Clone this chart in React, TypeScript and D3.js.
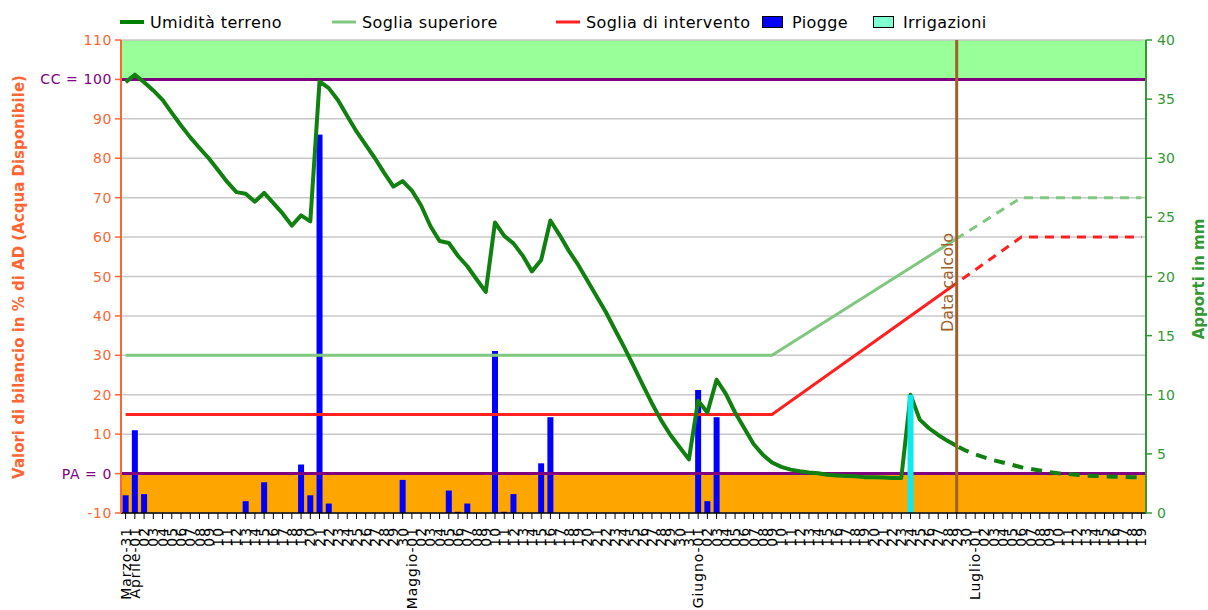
import React from 'react';
import * as d3 from 'd3';

// calendar: Marzo-31 .. Luglio-19
const startDay = new Date(2021, 2, 31);
const endDay = new Date(2021, 6, 20);
const monthNames = ['Gennaio', 'Febbraio', 'Marzo', 'Aprile', 'Maggio', 'Giugno', 'Luglio', 'Agosto'];
const calcDay = 90; // Data calcolo

// Umidità terreno (% AD), one value per day
const moisture = [
  99.3, 101.2, 99.3, 97.2, 94.8, 91.5, 88.3, 85.3, 82.6, 80, 77, 74, 71.4, 71, 69, 71.2, 68.6, 66, 62.9, 65.5,
  64, 99.5, 97.8, 94.7, 90.7, 86.8, 83.4, 80, 76.3, 72.8, 74.2, 71.8, 68, 62.8, 59, 58.5, 55.2, 52.6, 49.3, 46.1,
  63.7, 60.3, 58.4, 55.3, 51.3, 54.2, 64.2, 60.5, 56.5, 53, 49, 45, 41, 36.5, 32, 27.3, 22.5, 17.8, 13.5, 9.8,
  6.7, 3.6, 18.5, 15.5, 23.8, 20.2, 15.5, 11.5, 7.5, 4.8, 2.8, 1.7, 1.0, 0.6, 0.3, 0.1, -0.3, -0.5, -0.6, -0.7,
  -0.9, -0.9, -1.0, -1.1, -1.1, 20, 13.7, 11.5, 9.8, 8.3, 7.0, 5.8, 4.9, 4.1, 3.4, 2.8, 2.2, 1.6, 1.2, 0.8,
  0.4, 0.1, -0.1, -0.3, -0.5, -0.6, -0.7, -0.8, -0.85, -0.9, -0.9,
];

// thresholds (breakpoints by day index)
const thresholdDays = [0, 70, 97, 110];
const upperThreshold = [30, 30, 70, 70];
const interventionThreshold = [15, 15, 60, 60];

// Piogge (mm)
const rainDays = [0, 1, 2, 13, 15, 19, 20, 21, 22, 30, 35, 36, 37, 40, 41, 42, 45, 46, 62, 63, 64];
const rainMm = [1.5, 7.0, 1.6, 1.0, 2.6, 4.1, 1.5, 32, 0.8, 2.8, 1.9, 0.1, 0.8, 13.7, 0.1, 1.6, 4.2, 8.1, 10.4, 1.0, 8.1];

// Irrigazioni (mm)
const irrigationDays = [85];
const irrigationMm = [10];

const leftTicks = [-10, 0, 10, 20, 30, 40, 50, 60, 70, 80, 90, 100, 110];
const rightTicks = [0, 5, 10, 15, 20, 25, 30, 35, 40];

const legendItems = [
  { label: 'Umidità terreno', kind: 'line', color: '#008000', w: 4, x: 120 },
  { label: 'Soglia superiore', kind: 'line', color: '#80C880', w: 3, x: 332 },
  { label: 'Soglia di intervento', kind: 'line', color: '#FF2020', w: 3, x: 556 },
  { label: 'Piogge', kind: 'rect', color: '#0000FF', w: 0, x: 762 },
  { label: 'Irrigazioni', kind: 'rect', color: '#80FFD0', w: 0, x: 873 },
];

const FONT = 'DejaVu Sans, Verdana, sans-serif';

export default function App() {
  const left = 121, right = 1146, top = 40, bottom = 513;
  const days = d3.timeDay.range(startDay, endDay);

  const x = d3.scaleLinear().domain([-0.5, days.length - 0.5]).range([left, right]);
  const y = d3.scaleLinear().domain([-10, 110]).range([bottom, top]);
  const yr = d3.scaleLinear().domain([0, 40]).range([bottom, top]);

  const line = d3.line<number>().x((d, i) => x(i)).y(d => y(d));
  const thrLine = (vals: number[]) =>
    d3.line<number>().x((d, i) => x(thresholdDays[i])).y(d => y(d))(vals) || '';

  const dayLabel = (d: Date, i: number) => {
    const dd = d3.timeFormat('%d')(d);
    return i === 0 || d.getDate() === 1 ? `${monthNames[d.getMonth()]}-${dd}` : dd;
  };
  const leftLabel = (v: number) => (v === 100 ? 'CC = 100' : v === 0 ? 'PA = 0' : String(v));
  const xc = x(calcDay);

  const lines = (dash: string | undefined) => (
    <>
      <path d={thrLine(upperThreshold)} fill="none" stroke="#80C880" strokeWidth={3} strokeDasharray={dash} />
      <path d={thrLine(interventionThreshold)} fill="none" stroke="#FF2020" strokeWidth={3} strokeDasharray={dash} />
    </>
  );

  return (
    <svg width={1208} height={610} style={{ position: 'absolute', left: 0, top: 0, display: 'block', background: '#fff' }} fontFamily={FONT}>
      <defs>
        <clipPath id="solid"><rect x={0} y={0} width={xc} height={610} /></clipPath>
        <clipPath id="dashed"><rect x={xc} y={0} width={1208 - xc} height={610} /></clipPath>
      </defs>

      {/* legend */}
      {legendItems.map(it => (
        <g key={it.label}>
          {it.kind === 'line'
            ? <line x1={it.x} x2={it.x + 24} y1={22} y2={22} stroke={it.color} strokeWidth={it.w} />
            : <rect x={it.x + 0.5} y={16.5} width={20} height={11} fill={it.color} stroke="#000" strokeWidth={1} />}
          <text x={it.x + 30} y={28} fontSize={16} letterSpacing={0.4} fill="#000">{it.label}</text>
        </g>
      ))}

      {/* bands */}
      <rect x={left} y={y(110)} width={right - left} height={y(100) - y(110)} fill="#99FF99" />
      <rect x={left} y={y(0)} width={right - left} height={y(-10) - y(0)} fill="#FFA500" />

      {/* grid */}
      {leftTicks.map(t => (
        <line key={t} x1={left} x2={right} y1={y(t)} y2={y(t)} stroke="#C8C8C8" strokeWidth={1.5} />
      ))}

      {/* piogge */}
      {rainDays.map((d, i) => (
        <rect key={d} x={x(d) - 3} y={yr(rainMm[i])} width={6} height={bottom - yr(rainMm[i])} fill="#0000FF" />
      ))}

      {/* soglie */}
      <g clipPath="url(#solid)">{lines(undefined)}</g>
      <g clipPath="url(#dashed)">{lines('9,7')}</g>

      {/* CC / PA */}
      <line x1={left} x2={right} y1={y(100)} y2={y(100)} stroke="#800080" strokeWidth={3} />
      <line x1={left} x2={right} y1={y(0)} y2={y(0)} stroke="#800080" strokeWidth={3} />

      {/* umidità terreno */}
      <path d={line(moisture) || ''} fill="none" stroke="#108010" strokeWidth={4} strokeLinejoin="round" clipPath="url(#solid)" />
      <path d={line(moisture) || ''} fill="none" stroke="#108010" strokeWidth={4} strokeDasharray="11,8" clipPath="url(#dashed)" />

      {/* irrigazioni */}
      {irrigationDays.map((d, i) => (
        <rect key={d} x={x(d) - 3} y={yr(irrigationMm[i])} width={6} height={bottom - yr(irrigationMm[i])} fill="#10E8F0" />
      ))}

      {/* data calcolo */}
      <line x1={xc} x2={xc} y1={top} y2={bottom} stroke="#A0602A" strokeWidth={3} />
      <text transform={`translate(${xc - 4},332) rotate(-90)`} fontSize={16} fill="#A0602A">Data calcolo</text>

      {/* x axis */}
      <line x1={left} x2={right} y1={bottom} y2={bottom} stroke="#000" strokeWidth={1.5} />
      {days.map((d, i) => (
        <g key={i}>
          <line x1={x(i)} x2={x(i)} y1={bottom} y2={bottom + 6} stroke="#000" strokeWidth={1} />
          <text transform={`translate(${x(i)},${bottom + 14}) rotate(-90)`} textAnchor="end" dy="0.36em" fontSize={14}
            letterSpacing={0.9} fill="#000">
            {dayLabel(d, i)}
          </text>
        </g>
      ))}

      {/* left axis */}
      <line x1={left} x2={left} y1={top} y2={bottom} stroke="#FF6633" strokeWidth={2} />
      {leftTicks.map(t => (
        <g key={t}>
          <line x1={left - 6} x2={left} y1={y(t)} y2={y(t)} stroke="#FF6633" strokeWidth={1.5} />
          <text x={left - 9} y={y(t)} dy="0.36em" textAnchor="end" fontSize={14} letterSpacing={0.6}
            fill={t === 100 || t === 0 ? '#800080' : '#FF6633'}>{leftLabel(t)}</text>
        </g>
      ))}
      <text transform="translate(24,277) rotate(-90)" textAnchor="middle" fontSize={15} fontWeight="bold" fill="#FF6633">
        Valori di bilancio in % di AD (Acqua Disponibile)
      </text>

      {/* right axis */}
      <line x1={right} x2={right} y1={top} y2={bottom} stroke="#339933" strokeWidth={2} />
      {rightTicks.map(t => (
        <g key={t}>
          <line x1={right} x2={right + 6} y1={yr(t)} y2={yr(t)} stroke="#339933" strokeWidth={1.5} />
          <text x={right + 11} y={yr(t)} dy="0.36em" fontSize={14} fill="#339933">{t}</text>
        </g>
      ))}
      <text transform="translate(1204,279) rotate(-90)" textAnchor="middle" fontSize={15} fontWeight="bold" fill="#339933">
        Apporti in mm
      </text>
    </svg>
  );
}
